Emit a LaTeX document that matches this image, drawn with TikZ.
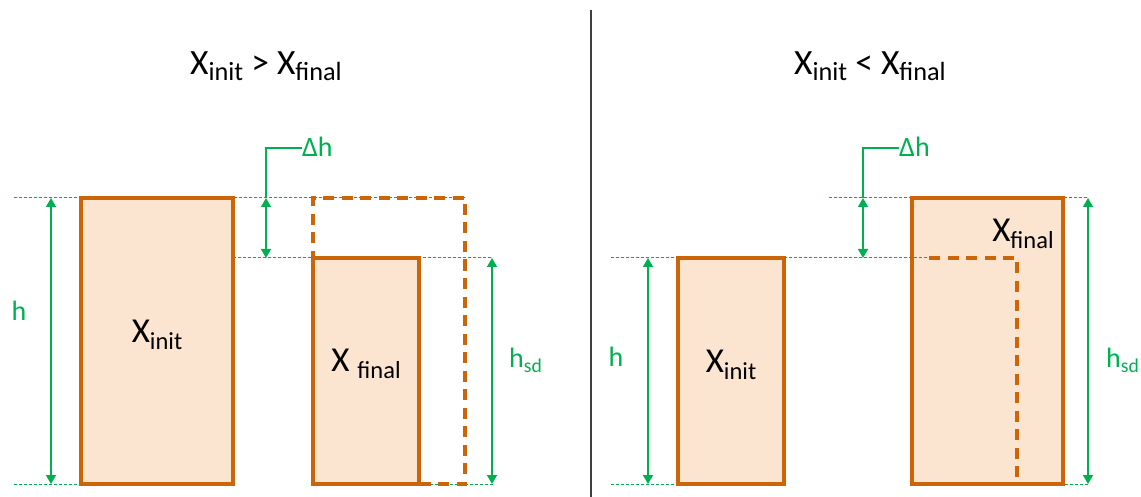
\documentclass[tikz,border=0pt]{standalone}
\usepackage{fontspec}
\setmainfont{Carlito}
\usepackage{graphicx}
\usetikzlibrary{arrows.meta}
\definecolor{orng}{HTML}{CC6408}
\definecolor{lfill}{HTML}{FCE5D0}
\definecolor{grn}{HTML}{00B050}
\definecolor{sep}{HTML}{3F3F3F}
\newcommand\dn[1]{\raisebox{-0.2em}{\scalebox{0.7}{#1}}}
\newcommand\tdn[1]{\raisebox{-0.15em}{\scalebox{0.74}{#1}}}
\tikzset{
  guide/.style={grn, line width=1pt, dash pattern=on 3pt off 2pt},
  barbox/.style={draw=orng, fill=lfill, line width=3.3pt},
  ghost/.style={draw=orng, line width=3.3pt, dash pattern=on 11pt off 7.5pt},
  dim/.style={grn, line width=1.5pt, {Triangle[width=10pt,length=9pt]}-{Triangle[width=10pt,length=9pt]}},
  lead/.style={grn, line width=1.3pt},
  ttl/.style={font=\fontsize{35.5}{40}\selectfont, anchor=base, inner sep=0pt},
  blab/.style={font=\fontsize{35}{40}\selectfont, anchor=base, inner sep=0pt},
  glab/.style={grn, font=\fontsize{28}{32}\selectfont, inner sep=0pt},
  dlab/.style={grn, font=\fontsize{28}{32}\selectfont, anchor=base west, inner sep=0pt}
}
\begin{document}
\begin{tikzpicture}[x=1pt,y=-1pt]
\useasboundingbox (0,0) rectangle (1141,497);
% separator
\draw[sep, line width=1.5pt] (591,10) -- (591,497);
% titles
\node[ttl] (t1) at (266,75) {X\tdn{init} > X\tdn{final}};
\node[ttl] (t2) at (870,75) {X\tdn{init} < X\tdn{final}};
% ---------- left panel ----------
\draw[guide] (14,198) -- (465,198);
\draw[guide] (233,258) -- (493,258);
\draw[guide] (14,484) -- (81,484);
\draw[guide] (410,484) -- (493,484);
\node[barbox, minimum width=152pt, minimum height=286pt, inner sep=0pt] (Li) at (157,341) {};
\node[barbox, minimum width=106pt, minimum height=226pt, inner sep=0pt] (Lf) at (366,371) {};
\draw[ghost] (313,484) -- (313,198) -- (465,198) -- (465,484) -- (420,484);
\node[blab] (LiT) at (157,342) {X\dn{init}};
\node[blab] (LfT) at (366,371) {X \dn{final}};
\coordinate (LhT) at (51,198); \coordinate (LhB) at (51,484);
\draw[dim] (LhT) -- (LhB);
\node[glab, anchor=base] (Lh) at (19,320) {h};
\coordinate (LdT) at (266,198); \coordinate (LdB) at (266,258);
\draw[dim] (LdT) -- (LdB);
\node[dlab] (Ld) at (302,157) {Δh};
\draw[lead] (LdT) -- (266,148) -- (Ld.base west |- 0,148);
\coordinate (LsT) at (492,258); \coordinate (LsB) at (492,484);
\draw[dim] (LsT) -- (LsB);
\node[glab, anchor=base west] (Ls) at (509,367) {h\dn{sd}};
% ---------- right panel ----------
\draw[guide] (829,198) -- (1088,198);
\draw[guide] (611,258) -- (678,258);
\draw[guide] (611,484) -- (678,484);
\draw[guide] (1040,484) -- (1088,484);
\node[barbox, minimum width=106pt, minimum height=226pt, inner sep=0pt] (Ri) at (731,371) {};
\node[barbox, minimum width=151pt, minimum height=286pt, inner sep=0pt] (Rf) at (987.5,341) {};
\draw[guide] (784,258) -- (927,258);
\draw[ghost] (929,258) -- (1017,258) -- (1017,484);
\node[blab] (RiT) at (731,372) {X\dn{init}};
\node[blab] (RfT) at (1023,242) {X\dn{final}};
\coordinate (RhT) at (648,258); \coordinate (RhB) at (648,484);
\draw[dim] (RhT) -- (RhB);
\node[glab, anchor=base] (Rh) at (616,366) {h};
\coordinate (RdT) at (863,198); \coordinate (RdB) at (863,258);
\draw[dim] (RdT) -- (RdB);
\node[dlab] (Rd) at (899,157) {Δh};
\draw[lead] (RdT) -- (863,148) -- (Rd.base west |- 0,148);
\coordinate (RsT) at (1088,198); \coordinate (RsB) at (1088,484);
\draw[dim] (RsT) -- (RsB);
\node[glab, anchor=base west] (Rs) at (1106,367) {h\dn{sd}};
\end{tikzpicture}
\end{document}
